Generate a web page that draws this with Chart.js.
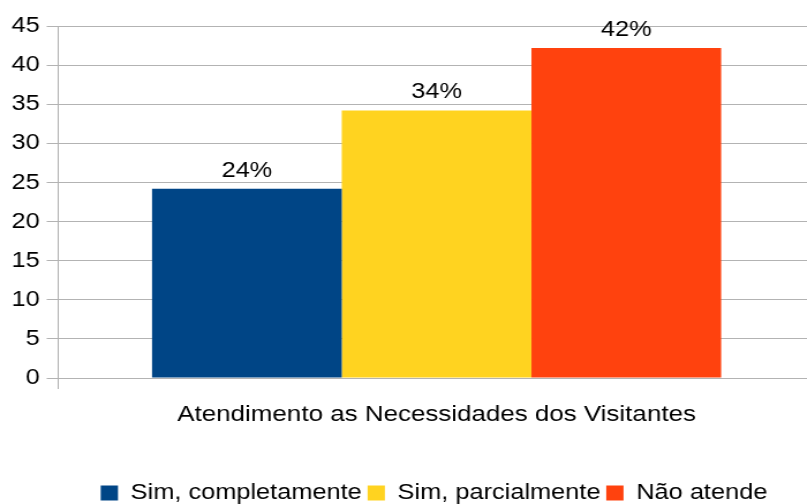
<!DOCTYPE html>
<html>
<head>
<meta charset="utf-8">
<script src="https://cdn.jsdelivr.net/npm/chart.js@4/dist/chart.umd.min.js"></script>
<style>
html,body{margin:0;padding:0;background:#fff;overflow:hidden;width:807px;height:504px;}
#wrap{width:807px;height:504px;position:relative;overflow:hidden;}
#c{display:block;width:815px;height:504px;}
</style>
</head>
<body>
<div id="wrap"><canvas id="c" width="707" height="504" style="width:815px;height:504px;"></canvas></div>
<script>
const categories = ["Atendimento as Necessidades dos Visitantes"];
const seriesNames = ["Sim, completamente", "Sim, parcialmente", "Não atende"];
const seriesValues = [24.2, 34.2, 42.2];
const seriesLabels = ["24%", "34%", "42%"];
const seriesColors = ["#004586", "#ffd320", "#ff420e"];
const yTicks = [0, 5, 10, 15, 20, 25, 30, 35, 40, 45];

const FONT = "'Liberation Sans', Arial, sans-serif";
const LEGEND_SHIFT = 21;

const valueLabels = {
  id: 'valueLabels',
  afterDatasetsDraw(chart) {
    const ctx = chart.ctx;
    ctx.save();
    ctx.font = "22px " + FONT;
    ctx.fillStyle = "#000";
    ctx.textAlign = "center";
    ctx.textBaseline = "alphabetic";
    chart.data.datasets.forEach((ds, i) => {
      const meta = chart.getDatasetMeta(i);
      meta.data.forEach((bar) => {
        ctx.fillText(seriesLabels[i], bar.x, bar.y - 12);
      });
    });
    ctx.restore();
  }
};

const legendShift = {
  id: 'legendShift',
  afterLayout(chart) {
    if (chart.legend) { chart.legend.left += LEGEND_SHIFT; chart.legend.right += LEGEND_SHIFT; }
  }
};

new Chart(document.getElementById('c'), {
  type: 'bar',
  data: {
    labels: categories,
    datasets: seriesNames.map((n, i) => ({
      label: n,
      data: [seriesValues[i]],
      backgroundColor: seriesColors[i],
      borderWidth: 0,
      barPercentage: 1.0,
      categoryPercentage: 0.752
    }))
  },
  options: {
    responsive: false,
    animation: false,
    devicePixelRatio: 1,
    layout: { padding: { left: 4, right: 0, top: 26, bottom: -10 } },
    plugins: {
      tooltip: { enabled: false },
      legend: {
        position: 'bottom',
        labels: {
          font: { family: FONT, size: 22 },
          color: '#000',
          boxWidth: 15,
          boxHeight: 15,
          padding: 5
        }
      }
    },
    scales: {
      x: {
        grid: { display: true, offset: true, drawOnChartArea: false, tickLength: 11, color: '#b3b3b3' },
        border: { color: '#b3b3b3' },
        ticks: { font: { family: FONT, size: 22.5 }, color: '#000', padding: 12 },
        afterFit(scale) { scale.height = 99; }
      },
      y: {
        min: 0, max: 45,
        afterBuildTicks(axis) { axis.ticks = yTicks.map(v => ({ value: v })); },
        grid: { color: '#b3b3b3', tickLength: 10 },
        border: { color: '#b3b3b3' },
        ticks: { font: { family: FONT, size: 22 }, color: '#000', padding: 6 }
      }
    }
  },
  plugins: [valueLabels, legendShift]
});
</script>
</body>
</html>
